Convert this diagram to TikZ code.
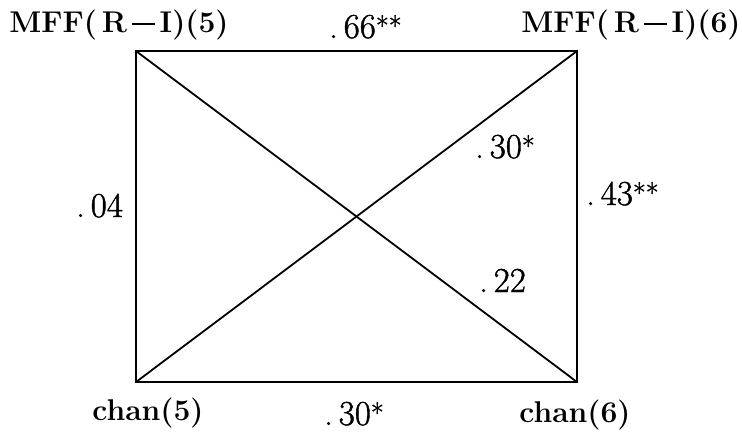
\documentclass[tikz,border=0pt]{standalone}
\usepackage{fontspec}
\setmainfont{Latin Modern Roman}
\newfontfamily\numfont[FakeBold=1.2]{Latin Modern Roman}
\newcommand{\stars}[1]{{\fontsize{28}{28}\selectfont\raisebox{2pt}{#1}}}
\newcommand{\bminus}{\,\rule[0.22em]{0.75em}{0.09em}\,}
\begin{document}
\begin{tikzpicture}[x=1pt,y=-1pt,
  lab/.style={inner sep=0pt,font=\fontsize{30}{30}\selectfont\bfseries},
  num/.style={inner sep=0pt,anchor=base west,font=\numfont\fontsize{35}{35}\selectfont},
  edge/.style={line width=1.8pt}]
\useasboundingbox (0,0) rectangle (742,432);
\coordinate (A) at (136,51);
\coordinate (B) at (577,51);
\coordinate (C) at (136,382);
\coordinate (D) at (577,382);
\draw[edge] (A) -- (B) -- (D) -- (C) -- cycle;
\draw[edge] (A) -- (D);
\draw[edge] (C) -- (B);
\node[lab,anchor=base] (m5) at (119,32) {MFF(\,R\bminus I)(5)};
\node[lab,anchor=base] (m6) at (631,32) {MFF(\,R\bminus I)(6)};
\node[lab,anchor=base] (c5) at (148,420) {chan(5)};
\node[lab,anchor=base] (c6) at (575,422) {chan(6)};
\node[num] (n66) at (329,38) {.\,66\stars{**}};
\node[num] (n30a) at (475,158) {.\,30\stars{*}};
\node[num] (n43) at (586,205) {.\,43\stars{**}};
\node[num] (n04) at (76,217) {.\,04};
\node[num] (n22) at (479,292) {.\,22};
\node[num] (n30b) at (324,425) {.\,30\stars{*}};
\end{tikzpicture}
\end{document}
